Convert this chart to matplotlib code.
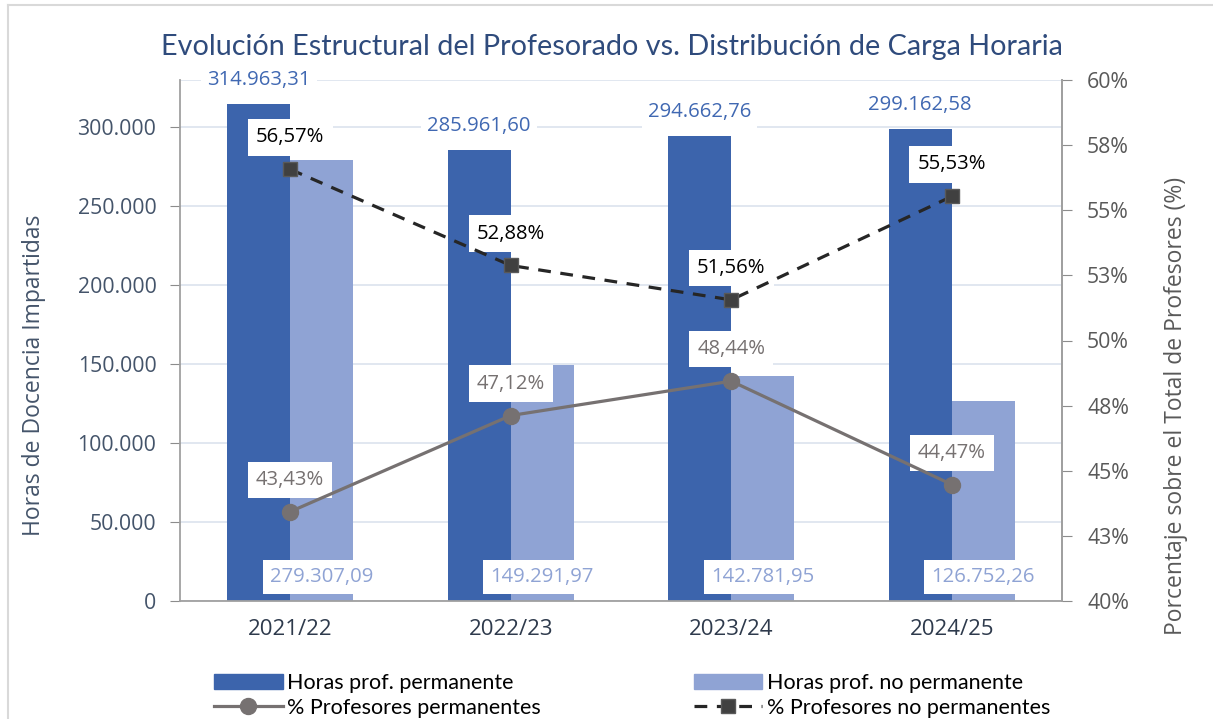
import matplotlib
matplotlib.use("Agg")
import matplotlib.pyplot as plt
from matplotlib.lines import Line2D
from matplotlib.patches import Patch
import numpy as np

# datos
cursos = ["2021/22", "2022/23", "2023/24", "2024/25"]
horas_perm = [314963.31, 285961.60, 294662.76, 299162.58]
horas_noperm = [279307.09, 149291.97, 142781.95, 126752.26]
pct_perm = [43.43, 47.12, 48.44, 44.47]
pct_noperm = [56.57, 52.88, 51.56, 55.53]
ticks_izq = [0, 50000, 100000, 150000, 200000, 250000, 300000]
ticks_der = [40, 42.5, 45, 47.5, 50, 52.5, 55, 57.5, 60]

AZUL = "#3C64AC"
AZUL_CLARO = "#8FA3D4"
GRIS = "#767171"
NEGRO = "#262626"


def miles(v):
    return f"{int(v):,}".replace(",", ".")


def euro(v):
    s = f"{v:,.2f}"
    return s.replace(",", "X").replace(".", ",").replace("X", ".")


def pct(v):
    return f"{v:.2f}%".replace(".", ",")


plt.rcParams['font.family'] = ['Open Sans', 'DejaVu Sans']

fig = plt.figure(figsize=(12.13, 7.19), dpi=100)
ax = fig.add_axes([180/1213, 1-601/719, (1062-180)/1213, (601-80)/719])
ax2 = ax.twinx()

x = np.arange(len(cursos))
w = 0.286
ax.bar(x - w/2, horas_perm, w, color=AZUL, zorder=2)
ax.bar(x + w/2, horas_noperm, w, color=AZUL_CLARO, zorder=2)

ax.set_xlim(-0.5, 3.5)
ax.set_ylim(0, 330000)
ax.set_yticks(ticks_izq)
ax.set_yticklabels([miles(t) for t in ticks_izq])
ax.set_xticks(x)
ax.set_xticklabels(cursos, fontsize=16, color="#2E3A4C", fontweight='medium')
ax.tick_params(axis='x', length=0, pad=13)
ax.tick_params(axis='y', colors="#8C8C8C", labelcolor="#44546A", labelsize=15.3,
               length=7, pad=10)
ax.grid(axis='y', color="#DCE3EE", lw=1.2, zorder=0)
ax.axhline(330000, color="#DCE3EE", lw=1.2, zorder=0)
ax.set_axisbelow(True)
ax.spines["top"].set_visible(False)
for s in ["left", "bottom", "right"]:
    ax.spines[s].set_color("#A0A0A0")
    ax.spines[s].set_linewidth(1.3)
ax.set_ylabel("Horas de Docencia Impartidas", fontsize=16.5, color="#44546A")
ax.yaxis.set_label_coords((46-180)/882, (601-375)/521)

# etiquetas barras
for i in range(len(cursos)):
    ax.annotate(euro(horas_perm[i]), (x[i] - w/2, horas_perm[i]), xytext=(0, 17),
                textcoords='offset points', ha='center', va='center', fontsize=14.6,
                color="#4068B2", zorder=5,
                bbox=dict(boxstyle='square,pad=0.3', fc='white', ec='none'))
    ax.annotate(euro(horas_noperm[i]), (x[i] + w/2, 0), xytext=(0, 17),
                textcoords='offset points', ha='center', va='center', fontsize=14.6,
                color=AZUL_CLARO, zorder=5,
                bbox=dict(boxstyle='square,pad=0.35', fc='white', ec='none'))

# lineas eje derecho
ax2.plot(x, pct_perm, color=GRIS, lw=2.3, marker='o', ms=11.5, zorder=4)
ax2.plot(x, pct_noperm, color=NEGRO, lw=2.3, dashes=(4, 3), marker='s', ms=10.5,
         mfc="#404040", mec="#595959", zorder=4)
for i in range(len(cursos)):
    ax2.annotate(pct(pct_perm[i]), (x[i], pct_perm[i]), xytext=(0, 23),
                 textcoords='offset points', ha='center', va='center', fontsize=14.6,
                 color=GRIS, bbox=dict(boxstyle='square,pad=0.4', fc='white', ec='none'))
    ax2.annotate(pct(pct_noperm[i]), (x[i], pct_noperm[i]), xytext=(0, 23),
                 textcoords='offset points', ha='center', va='center', fontsize=14.6,
                 color="black", bbox=dict(boxstyle='square,pad=0.4', fc='white', ec='none'))

ax2.set_ylim(40, 60)
ax2.set_yticks(ticks_der)
ax2.set_yticklabels([f"{int(t + 0.5)}%" for t in ticks_der])
ax2.tick_params(axis='y', colors="#8C8C8C", labelcolor="#595959", labelsize=15.3,
                length=7, pad=11)
for s in ["top", "left", "bottom"]:
    ax2.spines[s].set_visible(False)
ax2.spines["right"].set_color("#A0A0A0")
ax2.spines["right"].set_linewidth(1.3)
ax2.set_ylabel("Porcentaje sobre el Total de Profesores (%)", fontsize=16.5, color="#595959")
ax2.yaxis.set_label_coords((1164-180)/882, (601-406)/521)

fig.text(612/1213, 1-47/719, "Evolución Estructural del Profesorado vs. Distribución de Carga Horaria",
         ha='center', va='center', fontsize=20.7, color="#2F4B7C",
         family=['Lato', 'DejaVu Sans'])

handles = [
    Patch(color=AZUL),
    Line2D([], [], color=GRIS, lw=2.3, marker='o', ms=11.5),
    Patch(color=AZUL_CLARO),
    Line2D([], [], color=NEGRO, lw=2.3, dashes=(4, 3), marker='s', ms=10.5,
           mfc="#404040", mec="#595959"),
]
labels = ["Horas prof. permanente", "% Profesores permanentes",
          "Horas prof. no permanente", "% Profesores no permanentes"]
fig.legend(handles, labels, ncol=2, loc='upper left', bbox_to_anchor=(203/1213, 1-662/719),
           frameon=False, prop={'family': ['Lato', 'DejaVu Sans'], 'size': 15.5},
           handlelength=3.2, handletextpad=0.2, columnspacing=7.1, labelspacing=0.22,
           borderpad=0)

# marco exterior
fig.add_artist(Line2D([8/1213, 1], [1-5/719, 1-5/719], color="#D9D9D9", lw=1.5))
fig.add_artist(Line2D([8/1213, 8/1213], [0, 1-5/719], color="#D9D9D9", lw=1.5))

fig.savefig("out.png", dpi=100)
